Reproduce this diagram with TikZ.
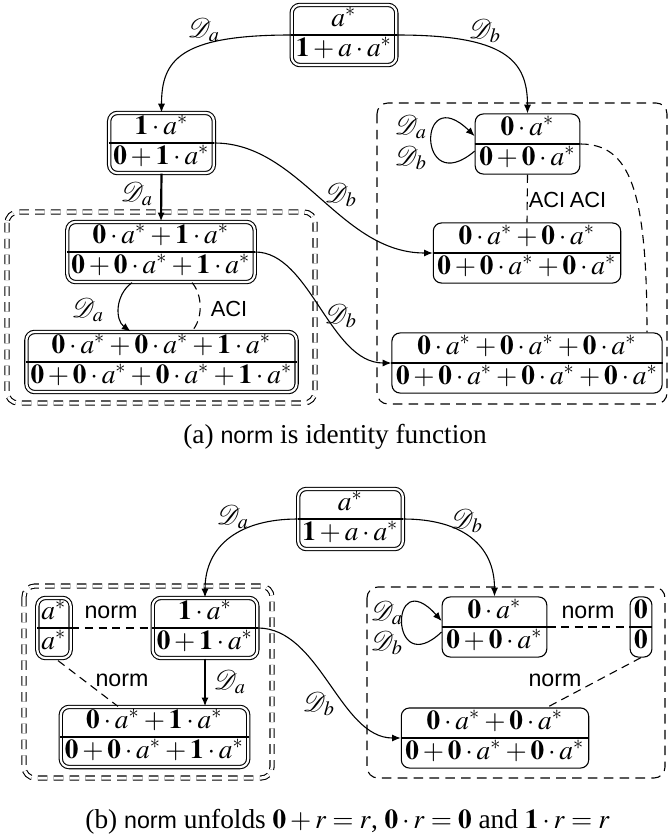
\documentclass[tikz,border=0pt]{standalone}
\usepackage{mathptmx}
\usepackage{fontspec}
\setmainfont{Liberation Serif}
\setsansfont{Liberation Sans}
\usepackage{mathrsfs}
\usepackage{tikz}
\usetikzlibrary{arrows.meta,calc,shapes.multipart}
\newcommand{\zr}{\mathbf{0}}
\newcommand{\one}{\mathbf{1}}
\newcommand{\Da}{\mathscr{D}_a}
\newcommand{\Db}{\mathscr{D}_b}
\newcommand{\sv}{\rule[-2.3pt]{0pt}{9.5pt}}
\newcommand{\nrm}{{\sffamily\fontsize{8.5}{10}\selectfont norm}}
\newcommand{\aci}{{\sffamily\fontsize{8}{10}\selectfont ACI}}

\begin{document}
\begin{tikzpicture}[x=0.366pt,y=-0.366pt,state/.style={rectangle split,rectangle split parts=2,rectangle split draw splits=false,draw,rounded corners=3pt,inner xsep=1.5pt,inner ysep=0.55pt,anchor=text split},acc/.style={state,double,double distance=0.8pt},rej/.style={state},arr/.style={-{Latex[length=3.2pt,width=2.6pt]}},eq/.style={dash pattern=on 3pt off 2pt},lab/.style={inner sep=0pt},grp/.style={dash pattern=on 3.5pt off 2.3pt,rounded corners=4pt},grpd/.style={grp,double,double distance=1.1pt}]
\useasboundingbox (0,0) rectangle (669,834);
% (a)
\node[acc] (A0) at (344,35) {\sv$a^*$\nodepart{two}\sv$\one+a\cdot a^*$};
\node[acc] (A1) at (161.5,143) {\sv$\one\cdot a^*$\nodepart{two}\sv$\zr+\one\cdot a^*$};
\node[rej] (A2) at (527.5,144) {\sv$\zr\cdot a^*$\nodepart{two}\sv$\zr+\zr\cdot a^*$};
\node[rej] (A3) at (527,253) {\sv$\zr\cdot a^*+\zr\cdot a^*$\nodepart{two}\sv$\zr+\zr\cdot a^*+\zr\cdot a^*$};
\node[rej] (A4) at (527,363) {\sv$\zr\cdot a^*+\zr\cdot a^*+\zr\cdot a^*$\nodepart{two}\sv$\zr+\zr\cdot a^*+\zr\cdot a^*+\zr\cdot a^*$};
\node[acc] (A5) at (161,252) {\sv$\zr\cdot a^*+\one\cdot a^*$\nodepart{two}\sv$\zr+\zr\cdot a^*+\one\cdot a^*$};
\node[acc] (A6) at (161.5,362) {\sv$\zr\cdot a^*+\zr\cdot a^*+\one\cdot a^*$\nodepart{two}\sv$\zr+\zr\cdot a^*+\zr\cdot a^*+\one\cdot a^*$};
\draw[grpd] (7,212) rectangle (315,403);
\draw[grp] (377,103) rectangle (667,404);
\draw[arr] (A0.text split west) .. controls (180,35) and (161.5,60) .. (A1.north);
\draw[arr] (A0.text split east) .. controls (505,35) and (527.5,60) .. (A2.north);
\draw[arr] ([yshift=-2.6pt]A2.west) .. controls (417,200) and (417,80) .. ([yshift=2.9pt]A2.west);
\draw[arr,thick] (A1.south) -- (A5.north);
\draw[arr] (A1.text split east) .. controls (300,143) and (340,253) .. (A3.text split west);
\draw[arr] ($(A5.south)+(-29,0)$) .. controls (115,295) and (115,320) .. ($(A6.north)+(-31,0)$);
\draw[eq] ($(A5.south)+(31,0)$) .. controls (203,295) and (203,320) .. ($(A6.north)+(30,0)$);
\draw[arr] (A5.text split east) .. controls (310,252) and (330,363) .. (A4.text split west);
\draw[eq] (A2.south) -- (A3.north);
\draw[eq] (A2.text split east) .. controls (630,144) and (647,190) .. ($(A4.north)+(120,0)$);
\node[lab] (la1) at (204,30) {$\Da$};
\node[lab] (la2) at (485,31) {$\Db$};
\node[lab] (la3) at (411,127) {$\Da$};
\node[lab] (la4) at (411,158) {$\Db$};
\node[lab] (la5) at (137,194) {$\Da$};
\node[lab] (la6) at (341,195) {$\Db$};
\node[lab] (la7) at (88,310) {$\Da$};
\node[lab] (la8) at (229,309) {\aci};
\node[lab] (la9) at (341,316) {$\Db$};
\node[lab] (la10) at (547,200) {\aci};
\node[lab] (la11) at (588,200) {\aci};
\node (capa) at (335,437) {(a) \nrm{} is identity function};
% (b)
\node[acc] (B0) at (350.5,519) {\sv$a^*$\nodepart{two}\sv$\one+a\cdot a^*$};
\node[acc] (B1) at (205,628) {\sv$\one\cdot a^*$\nodepart{two}\sv$\zr+\one\cdot a^*$};
\node[acc] (B2) at (54,628) {\sv$a^*$\nodepart{two}\sv$a^*$};
\node[rej] (B3) at (494.5,627) {\sv$\zr\cdot a^*$\nodepart{two}\sv$\zr+\zr\cdot a^*$};
\node[rej] (B4) at (641,627) {\sv$\zr$\nodepart{two}\sv$\zr$};
\node[acc] (B5) at (154.5,737) {\sv$\zr\cdot a^*+\one\cdot a^*$\nodepart{two}\sv$\zr+\zr\cdot a^*+\one\cdot a^*$};
\node[rej] (B6) at (495,738) {\sv$\zr\cdot a^*+\zr\cdot a^*$\nodepart{two}\sv$\zr+\zr\cdot a^*+\zr\cdot a^*$};
\draw[grpd] (24,586) rectangle (272,778);
\draw[grp] (367,587) rectangle (665,778);
\draw[arr] (B0.text split west) .. controls (240,519) and (205,545) .. (B1.north);
\draw[arr] (B0.text split east) .. controls (462,519) and (494.5,545) .. (B3.north);
\draw[arr] ([yshift=-1.8pt]B3.west) .. controls (389,682) and (389,562) .. ([yshift=2.2pt]B3.west);
\draw[arr,thick] (B1.south) -- (B1.south |- B5.north);
\draw[arr] (B1.text split east) .. controls (320,628) and (340,738) .. (B6.text split west);
\draw[eq] (B2.text split east) -- (B1.text split west);
\draw[eq] ($(B2.south)+(4,2)$) -- ($(B5.north)+(-36.5,0)$);
\draw[eq] (B3.text split east) -- (B4.text split west);
\draw[eq] (B4.south) -- ($(B6.north)+(52,0)$);
\node[lab] (lb1) at (233,517) {$\Da$};
\node[lab] (lb2) at (467,521) {$\Db$};
\node[lab] (lb3) at (387,613) {$\Da$};
\node[lab] (lb4) at (387,643) {$\Db$};
\node[lab] (lb5) at (111,612) {\nrm};
\node[lab] (lb6) at (230,682) {$\Da$};
\node[lab] (lb7) at (122,680) {\nrm};
\node[lab] (lb8) at (319,704) {$\Db$};
\node[lab] (lb9) at (588,612) {\nrm};
\node[lab] (lb10) at (555,680) {\nrm};
\node (capb) at (347.5,822) {(b) \nrm{} unfolds $\zr+r=r$, $\zr\cdot r=\zr$ and $\one\cdot r=r$};
% split lines
\foreach \n in {A0,A1,A5,A6,B0,B1,B2,B5} \draw (\n.text split west) -- (\n.text split east);
\foreach \n in {A2,A3,A4,B3,B4,B6} \draw[thick] (\n.text split west) -- (\n.text split east);
\end{tikzpicture}
\end{document}
